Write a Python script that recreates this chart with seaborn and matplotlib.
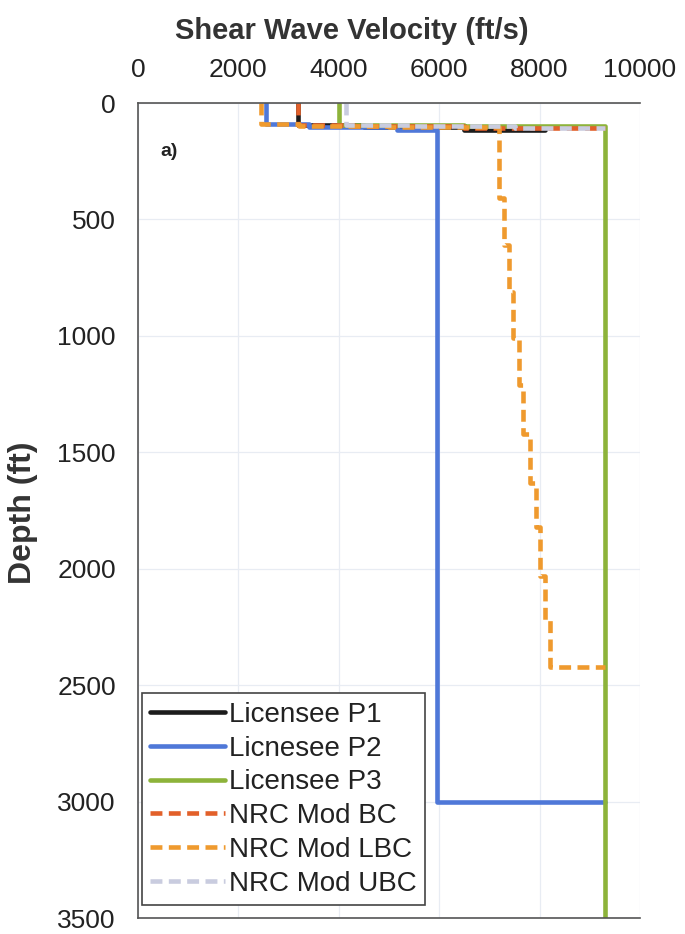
import numpy as np
import pandas as pd
import matplotlib.pyplot as plt
import seaborn as sns

sns.set_style('whitegrid')
plt.rcParams['font.family'] = ['Liberation Sans', 'DejaVu Sans']

# layer boundaries (ft) and shear wave velocity (ft/s); the last velocity is the
# half-space value, drawn only as the end point of the profile
p1_depth = [0, 95, 105, 116]
p1_vs = [3180, 4500, 6500, 8100]

p2_depth = [0, 90, 103, 116, 3000]
p2_vs = [2550, 3400, 5150, 5950, 9300]

p3_depth = [0, 93, 100, 3500]
p3_vs = [4000, 6500, 9300, 9300]

bc_depth = [0, 93, 100, 107]
bc_vs = [3180, 4300, 6500, 9300]

lbc_depth = [0, 92, 100, 103, 410, 610, 810, 1010, 1210, 1420, 1630, 1820, 2030, 2220, 2420]
lbc_vs = [2450, 3200, 5000, 7200, 7300, 7400, 7480, 7580, 7670, 7800, 7920, 8000, 8100, 8200, 9300]

ubc_depth = [0, 93, 100, 107]
ubc_vs = [4150, 5500, 7500, 9300]

names = ['Licensee P1', 'Licnesee P2', 'Licensee P3', 'NRC Mod BC', 'NRC Mod LBC', 'NRC Mod UBC']
colors = ['#1c1c1c', '#4f78d8', '#8db33a', '#e2602a', '#ef9a2e', '#c9ccdf']
dashed = [False, False, False, True, True, True]


def step_profile(depth, vs):
    d, v = [], []
    for i in range(len(depth) - 1):
        d += [depth[i], depth[i + 1]]
        v += [vs[i], vs[i]]
    d.append(depth[-1])
    v.append(vs[-1])
    return d, v


frames = []
for name, depth, vs in zip(names,
                           [p1_depth, p2_depth, p3_depth, bc_depth, lbc_depth, ubc_depth],
                           [p1_vs, p2_vs, p3_vs, bc_vs, lbc_vs, ubc_vs]):
    d, v = step_profile(depth, vs)
    frames.append(pd.DataFrame({'Depth': d, 'Vs': v, 'profile': name}))
df = pd.concat(frames, ignore_index=True)

fig = plt.figure(figsize=(6.85, 9.34), dpi=100)
ax = fig.add_axes([0.2015, 0.0171, 0.7328, 0.8726])

for name, col, dsh in zip(names, colors, dashed):
    sub = df[df['profile'] == name]
    sns.lineplot(data=sub, x='Vs', y='Depth', sort=False, estimator=None, ax=ax,
                 color=col, lw=3.3, label=name,
                 linestyle=(0, (2.6, 1.4)) if dsh else '-')

ax.set_xlim(0, 10000)
ax.set_ylim(3500, 0)
ax.set_xticks(np.arange(0, 10001, 2000))
ax.set_yticks(np.arange(0, 3501, 500))
ax.xaxis.tick_top()
ax.xaxis.set_label_position('top')
ax.tick_params(axis='x', length=0, pad=15, labelsize=19, labelcolor='#222')
ax.tick_params(axis='y', length=0, pad=16, labelsize=19, labelcolor='#222')
ax.set_xlabel('Shear Wave Velocity (ft/s)', fontsize=21, fontweight='bold', color='#333')
ax.xaxis.set_label_coords(0.426, 1.078)
ax.set_ylabel('Depth (ft)', fontsize=23, fontweight='bold', color='#333')
ax.yaxis.set_label_coords(-0.2, 0.497)
ax.grid(True, color='#e8ecf3', lw=0.9)

for s in ['left', 'top', 'bottom']:
    ax.spines[s].set_color('#555555')
    ax.spines[s].set_linewidth(1.2)
ax.spines['right'].set_visible(False)

ax.text(0.044, 0.94, 'a)', transform=ax.transAxes, fontsize=14, fontweight='bold',
        color='#222', va='center')

leg = ax.legend(loc='lower left', bbox_to_anchor=(0.008, 0.016), borderaxespad=0,
                fontsize=20, frameon=True, fancybox=False, edgecolor='#444444',
                framealpha=1, handlelength=2.7, handletextpad=0.12, labelspacing=0.28,
                borderpad=0.3)
leg.get_frame().set_linewidth(1.2)
for t in leg.get_texts():
    t.set_color('#222')

fig.savefig('out.png', dpi=100)
